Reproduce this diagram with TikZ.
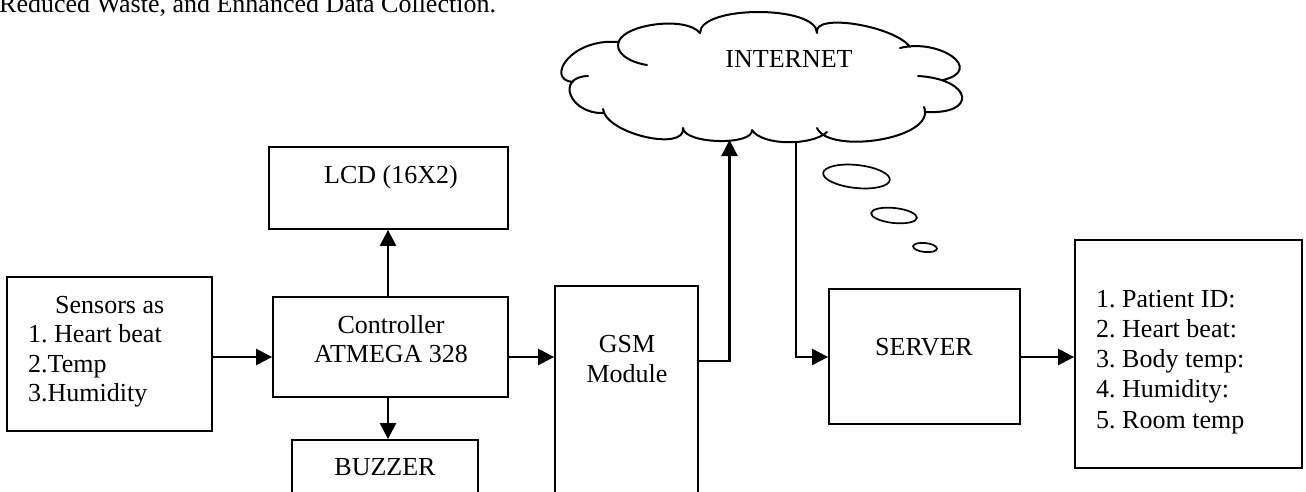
\documentclass[tikz,border=0pt]{standalone}
\usepackage{fontspec}
\setmainfont{Liberation Serif}
\frenchspacing
\usetikzlibrary{arrows.meta,fit,shapes.geometric}
\tikzset{
  box/.style={draw, line width=1.8pt, inner sep=0pt, rectangle},
  txt/.style={font=\fontsize{26}{30}\selectfont\frenchspacing, inner sep=0pt},
  arr/.style={line width=2.5pt, -{Triangle[length=16pt,width=16pt]}},
  thinarr/.style={line width=2pt, -{Triangle[length=16pt,width=16pt]}},
  bubble/.style={draw, ellipse, line width=1.7pt, inner sep=0pt},
  cloudline/.style={line width=2pt, line join=round, line cap=round},
}
\begin{document}
\begin{tikzpicture}[x=1pt,y=-1pt]
\useasboundingbox (0,0) rectangle (1306,492);

% caption text cropped at top
\node[txt, anchor=base west] (cap) at (-1,13) {Reduced Waste, and Enhanced Data Collection.};

% boxes
\node[box, fit={(7,277) (212,431)}] (sens) {};
\node[box, fit={(273,297) (508,397)}] (ctrl) {};
\node[box, fit={(269,147) (508,229)}] (lcd) {};
\node[box, fit={(292,440) (478,540)}] (buzz) {};
\node[box, fit={(555,286) (698,540)}] (gsm) {};
\node[box, fit={(829,289) (1020,424)}] (server) {};
\node[box, fit={(1075,240) (1302,468)}] (info) {};

% texts
\node[txt, anchor=base west] (s1) at (55,313) {Sensors as};
\node[txt, anchor=base west] (s2) at (28,342) {1. Heart beat};
\node[txt, anchor=base west] (s3) at (28,372) {2.Temp};
\node[txt, anchor=base west] (s4) at (28,401) {3.Humidity};
\node[txt, anchor=base] (c1) at (391,333) {Controller};
\node[txt, anchor=base] (c2) at (391,362) {ATMEGA 328};
\node[txt, anchor=base] (lcdt) at (391,183) {LCD (16X2)};
\node[txt, anchor=base] (buzzt) at (385,475) {BUZZER};
\node[txt, anchor=base] (g1) at (627,352) {GSM};
\node[txt, anchor=base] (g2) at (627,382) {Module};
\node[txt, anchor=base] (servt) at (924,355) {SERVER};
\node[txt, anchor=base] (inet) at (789,68) {INTERNET};
\node[txt, anchor=base west] (p1) at (1096,307) {1. Patient ID:};
\node[txt, anchor=base west] (p2) at (1096,337) {2. Heart beat:};
\node[txt, anchor=base west] (p3) at (1096,367) {3. Body temp:};
\node[txt, anchor=base west] (p4) at (1096,397) {4. Humidity:};
\node[txt, anchor=base west] (p5) at (1096,428) {5. Room temp};

% cloud outline
\draw[cloudline]
  (647,65) .. controls (628,62) and (614,52) .. (619,41)
  .. controls (626,24) and (686,16) .. (700,33)
  .. controls (700,5) and (817,5) .. (817,33)
  .. controls (812,12) and (895,26) .. (910,47)
  (900,48) .. controls (940,38) and (985,70) .. (943,80)
  (918,76) .. controls (972,79) and (979,115) .. (925,112)
  (924,107) .. controls (937,139) and (829,155) .. (817,128)
  (827,132) .. controls (812,146) and (762,146) .. (752,130)
  .. controls (753,146) and (684,144) .. (683,128)
  .. controls (686,152) and (606,134) .. (603,109)
  (603,113) .. controls (570,114) and (555,77) .. (588,76)
  (573,82) .. controls (545,80) and (570,38) .. (618,42);
\coordinate (cloudin) at (729.5,140);
\coordinate (cloudout) at (796,142);

% thought bubbles
\node[bubble, minimum width=67pt, minimum height=23pt, rotate=-6] (b1) at (856.5,176.5) {};
\node[bubble, minimum width=46pt, minimum height=15pt, rotate=-6] (b2) at (894,215.5) {};
\node[bubble, minimum width=24pt, minimum height=9pt, rotate=-6] (b3) at (925,247.5) {};

% connectors
\coordinate (ya) at (0,357);
\coordinate (yg) at (0,361);
\coordinate (xl) at (388,0);
\draw[arr] (sens.east |- ya) -- (ctrl.west |- ya);
\draw[arr] (ctrl.east |- ya) -- (gsm.west |- ya);
\draw[arr] (ctrl.north -| xl) -- (lcd.south -| xl);
\draw[arr] (ctrl.south -| xl) -- (buzz.north -| xl);
\draw[arr] (gsm.east |- yg) -| (cloudin);
\draw[thinarr] (cloudout) |- (server.west |- ya);
\draw[arr] (server.east |- ya) -- (info.west |- ya);
\end{tikzpicture}
\end{document}
